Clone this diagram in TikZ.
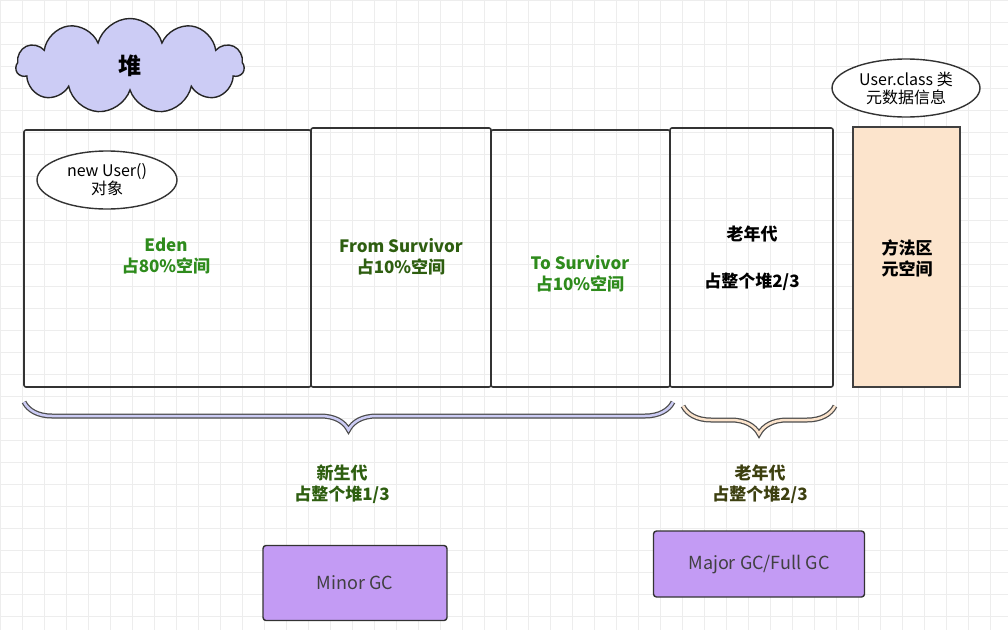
\documentclass[tikz,border=0pt]{standalone}
\usepackage{fontspec}
\setmainfont{Noto Sans CJK SC}
\usetikzlibrary{shapes.symbols,shapes.geometric,decorations.pathreplacing}
\definecolor{eg}{HTML}{2E8B1C}
\definecolor{dg}{HTML}{2E5E10}
\definecolor{og}{HTML}{3D4010}
\definecolor{lav}{HTML}{CCCCF5}
\definecolor{peach}{HTML}{FCE4CC}
\definecolor{purp}{HTML}{C39BF4}
\begin{document}
\begin{tikzpicture}[x=1pt,y=-1pt,
  area/.style={draw=black!80,line width=1.6pt,rounded corners=2pt},
  lbl/.style={font=\fontsize{17}{21}\selectfont\bfseries,align=center},
  el/.style={ellipse,draw=black!80,line width=1.4pt,fill=white,font=\fontsize{16}{18}\selectfont,align=center,inner sep=0pt},
  gc/.style={draw=black!80,line width=1.4pt,fill=purp,rounded corners=3pt,font=\fontsize{18}{21}\selectfont,text=black!75},
  brc/.style={decorate,decoration={brace,mirror,amplitude=28pt}}]
\useasboundingbox (0,0) rectangle (1008,630);
\foreach \i in {0,22,...,1008} \draw[black!7,line width=0.6pt] (\i,0) -- (\i,630);
\foreach \j in {0,22,...,630} \draw[black!7,line width=0.6pt] (0,\j) -- (1008,\j);
\node[cloud,cloud puffs=11,aspect=2.4,draw=black!85,line width=1.4pt,fill=lav,minimum width=228,minimum height=95,font=\fontsize{23}{25}\selectfont\bfseries] (heap) at (130,66) {堆};
\draw[area] (24,130) rectangle (311,387);
\draw[area] (311,128) rectangle (491,387);
\draw[area] (491,130) rectangle (670,387);
\draw[area] (670,128) rectangle (833,387);
\draw[draw=black!75,line width=1.4pt,fill=peach] (853,127) rectangle (960,387);
\node[el,minimum width=140,minimum height=58] (obj) at (107,180) {new User()\\对象};
\node[el,minimum width=148,minimum height=58] (meta) at (906,88) {User.class 类\\元数据信息};
\node[lbl,text=eg] (eden) at (166,256) {Eden\\占80\%空间};
\node[lbl,text=dg] (from) at (401,257) {From Survivor\\占10\%空间};
\node[lbl,text=eg] (to) at (580,274) {To Survivor\\占10\%空间};
\node[lbl] (old) at (752,234) {老年代};
\node[lbl] (old2) at (752,282) {占整个堆2/3};
\node[lbl] (meth) at (907,258) {方法区\\元空间};
\coordinate (b1a) at (24,402); \coordinate (b1b) at (673,402);
\coordinate (b2a) at (683,406); \coordinate (b2b) at (835,406);
\draw[brc,black!70,line width=5pt] (b1a) -- (b1b);
\draw[brc,lav,line width=2.5pt] (b1a) -- (b1b);
\draw[brc,black!70,line width=5pt] (b2a) -- (b2b);
\draw[brc,peach,line width=2.5pt] (b2a) -- (b2b);
\node[lbl,text=dg] (young) at (342,484) {新生代\\占整个堆1/3};
\node[lbl,text=og] (oldg) at (760,484) {老年代\\占整个堆2/3};
\node[gc,minimum width=184,minimum height=75] (minor) at (355,583) {Minor GC};
\node[gc,minimum width=211,minimum height=66] (major) at (759,564) {Major GC/Full GC};
\end{tikzpicture}
\end{document}
